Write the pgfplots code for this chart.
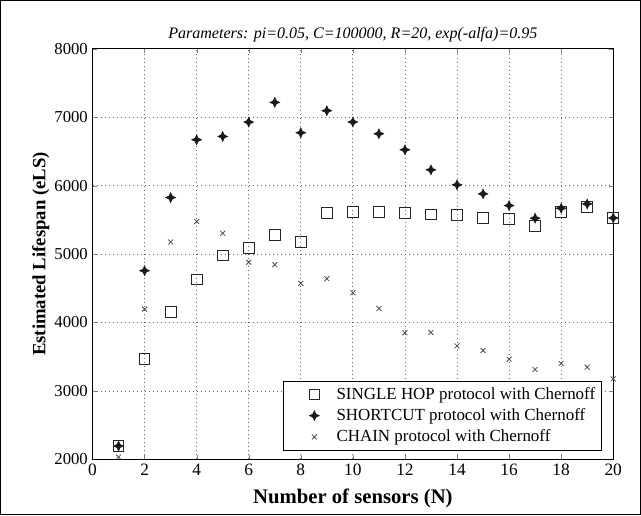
\documentclass[border=0pt]{standalone}
\usepackage{pgfplots}
\pgfplotsset{compat=1.18}
\usepackage{fontspec}
\setmainfont{Liberation Serif}

\pgfdeclareplotmark{sparkle}{%
  \pgfpathmoveto{\pgfqpoint{0pt}{\pgfplotmarksize}}%
  \pgfpathlineto{\pgfqpoint{0.32\pgfplotmarksize}{0.32\pgfplotmarksize}}%
  \pgfpathlineto{\pgfqpoint{\pgfplotmarksize}{0pt}}%
  \pgfpathlineto{\pgfqpoint{0.32\pgfplotmarksize}{-0.32\pgfplotmarksize}}%
  \pgfpathlineto{\pgfqpoint{0pt}{-\pgfplotmarksize}}%
  \pgfpathlineto{\pgfqpoint{-0.32\pgfplotmarksize}{-0.32\pgfplotmarksize}}%
  \pgfpathlineto{\pgfqpoint{-\pgfplotmarksize}{0pt}}%
  \pgfpathlineto{\pgfqpoint{-0.32\pgfplotmarksize}{0.32\pgfplotmarksize}}%
  \pgfpathclose
  \pgfusepathqfillstroke
}

\begin{document}
\begin{tikzpicture}
\begin{axis}[
  at={(0,0)}, anchor=south west,
  scale only axis,
  width=390pt, height=307.5pt,
  xmin=0, xmax=20, ymin=2000, ymax=8000,
  xtick={0,2,...,20},
  ytick={2000,3000,...,8000},
  tick align=inside,
  major tick length=3pt,
  grid=major,
  grid style={dash pattern=on 0.8pt off 2.2pt, black!60, line width=0.6pt},
  axis line style={line width=0.6pt},
  /pgf/number format/assume math mode=true,
  /pgf/number format/set thousands separator={},
  scaled y ticks=false,
  xticklabel style={font=\fontsize{13}{15}\selectfont},
  yticklabel style={font=\fontsize{12.5}{15}\selectfont},
  xlabel={\textbf{Number of sensors (N)}},
  ylabel={\textbf{Estimated Lifespan (eLS)}},
  xlabel style={font=\fontsize{15.5}{17}\selectfont, yshift=-3pt},
  ylabel style={font=\fontsize{14}{16}\selectfont, yshift=-3pt},
  title={\textit{Parameters: pi=0.05, C=100000, R=20, exp(-alfa)=0.95}},
  title style={font=\fontsize{12}{14}\selectfont, yshift=-4pt},
  legend style={at={(0.979,0.022)}, anchor=south east,
    font=\fontsize{12.7}{14}\selectfont, draw=black, line width=0.6pt,
    row sep=1.5pt, inner xsep=3pt, inner ysep=2.5pt},
  legend cell align=left,
  legend image code/.code={%
    \path (-0.7cm,0cm) (0.5cm,0cm);
    \draw[mark repeat=2,mark phase=2,#1] plot coordinates {(-0.1cm,0cm) (0cm,0cm) (0.1cm,0cm)};},
]
\addplot[only marks, mark=square, mark size=4pt, black!85, line width=0.7pt] coordinates {
(1,2200) (2,3464) (3,4152) (4,4631) (5,4982) (6,5085) (7,5284) (8,5177) (9,5597) (10,5612)
(11,5612) (12,5597) (13,5577) (14,5568) (15,5528) (16,5509) (17,5411) (18,5612) (19,5690) (20,5528)};
\addlegendentry{SINGLE HOP protocol with Chernoff}
\addplot[only marks, mark=sparkle, mark size=3.8pt, black!90, line width=0.3pt] coordinates {
(1,2195) (2,4757) (3,5826) (4,6671) (5,6719) (6,6929) (7,7217) (8,6773) (9,7095) (10,6930)
(11,6758) (12,6524) (13,6231) (14,6012) (15,5880) (16,5709) (17,5524) (18,5670) (19,5733) (20,5528)};
\addlegendentry{SHORTCUT protocol with Chernoff}
\addplot[only marks, mark=x, mark size=2.6pt, black!70, line width=0.6pt] coordinates {
(1,2034) (2,4196) (3,5177) (4,5475) (5,5304) (6,4880) (7,4845) (8,4572) (9,4640) (10,4435)
(11,4206) (12,3849) (13,3855) (14,3659) (15,3591) (16,3464) (17,3313) (18,3401) (19,3347) (20,3176)};
\addlegendentry{CHAIN protocol with Chernoff}
\end{axis}
\draw[line width=0.6pt] (-69pt,-41.5pt) rectangle (410.5pt,343.75pt);
\end{tikzpicture}
\end{document}
